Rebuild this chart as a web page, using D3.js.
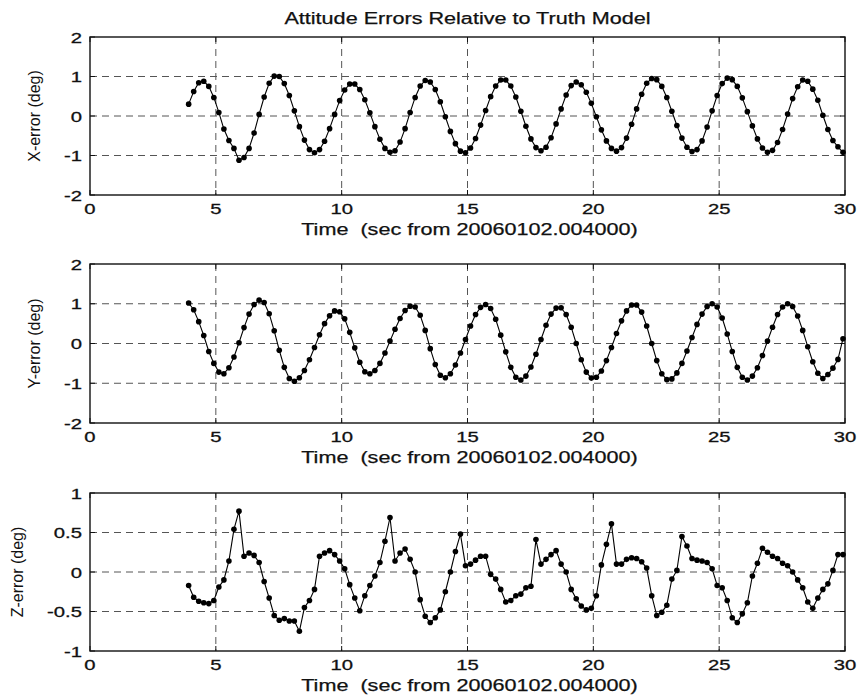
<!DOCTYPE html>
<html>
<head>
<meta charset="utf-8">
<script src="https://cdn.jsdelivr.net/npm/d3@7"></script>
<style>
  body { margin: 0; background: #fff; }
  text { font-family: "Liberation Sans", Arial, Helvetica, sans-serif; fill: #111; white-space: pre; }
</style>
</head>
<body>
<div id="chart"></div>
<script>
var width  = 860;
var height = 696;

// sample times: first sample and spacing (sec)
var t0 = 3.92;
var dt = 0.2;

var title  = "Attitude Errors Relative to Truth Model";
var xLabel = "Time  (sec from 20060102.004000)";
var xTicks = [0, 5, 10, 15, 20, 25, 30];

var xErr = [
  0.30, 0.62, 0.84, 0.88, 0.75, 0.47, 0.09, -0.33, -0.62, -0.82,
  -1.12, -1.05, -0.82, -0.43, 0.04, 0.48, 0.83, 1.01, 1.00, 0.82,
  0.52, 0.13, -0.27, -0.61, -0.85, -0.93, -0.85, -0.64, -0.32, 0.04,
  0.39, 0.66, 0.81, 0.81, 0.67, 0.41, 0.08, -0.27, -0.59, -0.82,
  -0.92, -0.88, -0.66, -0.32, 0.09, 0.47, 0.76, 0.90, 0.86, 0.67,
  0.36, -0.02, -0.39, -0.70, -0.89, -0.93, -0.81, -0.57, -0.23, 0.14,
  0.49, 0.76, 0.91, 0.91, 0.76, 0.48, 0.12, -0.26, -0.58, -0.80,
  -0.88, -0.79, -0.55, -0.20, 0.18, 0.53, 0.77, 0.86, 0.79, 0.60,
  0.32, -0.02, -0.35, -0.63, -0.82, -0.89, -0.80, -0.56, -0.21, 0.18,
  0.55, 0.83, 0.95, 0.92, 0.75, 0.47, 0.12, -0.24, -0.56, -0.79,
  -0.90, -0.85, -0.63, -0.28, 0.13, 0.52, 0.82, 0.96, 0.92, 0.75,
  0.46, 0.11, -0.25, -0.58, -0.81, -0.92, -0.87, -0.67, -0.34, 0.05,
  0.44, 0.74, 0.91, 0.88, 0.68, 0.40, 0.02, -0.34, -0.62, -0.78,
  -0.92
];

var yErr = [
  1.02, 0.85, 0.55, 0.20, -0.20, -0.50, -0.72, -0.76, -0.61, -0.34,
  0.02, 0.40, 0.74, 0.98, 1.09, 1.03, 0.75, 0.32, -0.17, -0.60,
  -0.88, -0.95, -0.86, -0.68, -0.41, -0.10, 0.22, 0.50, 0.70, 0.82,
  0.80, 0.62, 0.28, -0.11, -0.47, -0.71, -0.76, -0.68, -0.50, -0.24,
  0.06, 0.36, 0.63, 0.83, 0.94, 0.92, 0.71, 0.33, -0.13, -0.53,
  -0.80, -0.86, -0.76, -0.54, -0.24, 0.10, 0.44, 0.73, 0.91, 0.98,
  0.88, 0.61, 0.21, -0.21, -0.60, -0.85, -0.92, -0.82, -0.59, -0.27,
  0.10, 0.46, 0.74, 0.89, 0.90, 0.73, 0.41, 0.00, -0.41, -0.72,
  -0.87, -0.85, -0.69, -0.43, -0.10, 0.25, 0.57, 0.82, 0.97, 0.97,
  0.79, 0.44, 0.00, -0.43, -0.76, -0.91, -0.89, -0.74, -0.50, -0.19,
  0.15, 0.48, 0.74, 0.93, 1.00, 0.92, 0.64, 0.24, -0.20, -0.60,
  -0.85, -0.92, -0.82, -0.61, -0.30, 0.06, 0.41, 0.73, 0.92, 1.00,
  0.93, 0.69, 0.33, -0.08, -0.46, -0.75, -0.88, -0.78, -0.62, -0.40,
  0.12
];

var zErr = [
  -0.17, -0.32, -0.37, -0.39, -0.40, -0.36, -0.19, -0.10, 0.14, 0.54,
  0.77, 0.20, 0.24, 0.21, 0.12, -0.12, -0.33, -0.55, -0.61, -0.59,
  -0.62, -0.62, -0.75, -0.45, -0.36, -0.22, 0.20, 0.24, 0.27, 0.22,
  0.14, 0.04, -0.16, -0.33, -0.49, -0.30, -0.17, -0.05, 0.12, 0.39,
  0.69, 0.14, 0.24, 0.29, 0.16, 0.00, -0.35, -0.56, -0.64, -0.58,
  -0.48, -0.25, 0.00, 0.26, 0.48, 0.08, 0.10, 0.15, 0.20, 0.20,
  -0.03, -0.09, -0.22, -0.38, -0.36, -0.30, -0.28, -0.20, -0.18, 0.41,
  0.10, 0.16, 0.22, 0.27, 0.10, 0.00, -0.22, -0.34, -0.43, -0.48,
  -0.46, -0.30, 0.09, 0.35, 0.61, 0.10, 0.10, 0.16, 0.18, 0.17,
  0.13, 0.05, -0.30, -0.55, -0.51, -0.42, -0.09, 0.02, 0.45, 0.33,
  0.17, 0.15, 0.14, 0.12, 0.04, -0.17, -0.20, -0.36, -0.58, -0.64,
  -0.53, -0.39, -0.05, 0.11, 0.30, 0.25, 0.20, 0.17, 0.11, 0.08,
  0.00, -0.10, -0.20, -0.38, -0.46, -0.33, -0.22, -0.15, 0.02, 0.22,
  0.22
];

var xyTicks = [-2, -1, 0, 1, 2];
var zTicks  = [-1, -0.5, 0, 0.5, 1];

var panels = [
  { values: xErr, label: "X-error (deg)", ticks: xyTicks, top: 37,  bottom: 195, labelX: 35 },
  { values: yErr, label: "Y-error (deg)", ticks: xyTicks, top: 264, bottom: 423, labelX: 35 },
  { values: zErr, label: "Z-error (deg)", ticks: zTicks,  top: 493, bottom: 651, labelX: 18 }
];

var left = 90, right = 845;
var stretch = 1.35;   // the scanned lettering is wide

var svg = d3.select("#chart").append("svg")
  .attr("width", width)
  .attr("height", height);

var x = d3.scaleLinear().domain([0, 30]).range([left, right]);

function wide(sel) {
  sel.each(function() {
    var len = this.getComputedTextLength();
    d3.select(this).attr("textLength", len * stretch).attr("lengthAdjust", "spacingAndGlyphs");
  });
}

svg.append("text")
  .attr("x", (left + right) / 2)
  .attr("y", 24)
  .attr("text-anchor", "middle")
  .style("font-size", "16px")
  .style("stroke", "#111").style("stroke-width", 0.25)
  .text(title)
  .call(wide);

panels.forEach(function(p) {
  var y = d3.scaleLinear()
    .domain(d3.extent(p.ticks))
    .range([p.bottom, p.top]);

  var g = svg.append("g");

  // grid
  g.selectAll(".vgrid")
    .data(xTicks.slice(1, -1))
    .enter().append("line")
    .attr("x1", function(d) { return x(d); })
    .attr("x2", function(d) { return x(d); })
    .attr("y1", p.top).attr("y2", p.bottom)
    .style("stroke", "#555").style("stroke-width", 1)
    .style("stroke-dasharray", "7,5");

  g.selectAll(".hgrid")
    .data(p.ticks.slice(1, -1))
    .enter().append("line")
    .attr("x1", left).attr("x2", right)
    .attr("y1", function(d) { return y(d); })
    .attr("y2", function(d) { return y(d); })
    .style("stroke", "#555").style("stroke-width", 1)
    .style("stroke-dasharray", "7,5");

  // inward tick marks
  xTicks.forEach(function(d) {
    g.append("line").attr("x1", x(d)).attr("x2", x(d)).attr("y1", p.bottom).attr("y2", p.bottom - 5)
      .style("stroke", "#111");
    g.append("line").attr("x1", x(d)).attr("x2", x(d)).attr("y1", p.top).attr("y2", p.top + 5)
      .style("stroke", "#111");
  });
  p.ticks.forEach(function(d) {
    g.append("line").attr("x1", left).attr("x2", left + 5).attr("y1", y(d)).attr("y2", y(d))
      .style("stroke", "#111");
    g.append("line").attr("x1", right).attr("x2", right - 5).attr("y1", y(d)).attr("y2", y(d))
      .style("stroke", "#111");
  });

  // box
  g.append("rect")
    .attr("x", left).attr("y", p.top)
    .attr("width", right - left).attr("height", p.bottom - p.top)
    .style("fill", "none").style("stroke", "#111").style("stroke-width", 1.4);

  // tick labels
  g.selectAll(".xlab")
    .data(xTicks)
    .enter().append("text")
    .attr("x", function(d) { return x(d); })
    .attr("y", p.bottom + 19)
    .attr("text-anchor", "middle")
    .style("font-size", "15px")
    .style("stroke", "#111").style("stroke-width", 0.3)
    .text(function(d) { return d; })
    .call(wide);

  g.selectAll(".ylab")
    .data(p.ticks)
    .enter().append("text")
    .attr("x", left - 8)
    .attr("y", function(d) { return y(d) + 5.5; })
    .attr("text-anchor", "end")
    .style("font-size", "15px")
    .style("stroke", "#111").style("stroke-width", 0.3)
    .text(function(d) { return d; })
    .call(wide);

  // axis titles
  g.append("text")
    .attr("x", (left + right) / 2 + 2)
    .attr("y", p.bottom + 40)
    .attr("text-anchor", "middle")
    .style("font-size", "16px")
    .style("stroke", "#111").style("stroke-width", 0.25)
    .text(xLabel)
    .call(wide);

  g.append("text")
    .attr("transform", "translate(" + (p.labelX + 5) + "," + ((p.top + p.bottom) / 2) + ") rotate(-90)")
    .attr("text-anchor", "middle")
    .style("font-size", "16px")
    .text(p.label);

  // data
  var pts = p.values.map(function(v, i) { return [t0 + i * dt, v]; });

  var line = d3.line()
    .x(function(d) { return x(d[0]); })
    .y(function(d) { return y(d[1]); });

  g.append("path")
    .datum(pts)
    .attr("d", line)
    .style("fill", "none")
    .style("stroke", "#000")
    .style("stroke-width", 1.1);

  g.selectAll(".dot")
    .data(pts)
    .enter().append("circle")
    .attr("cx", function(d) { return x(d[0]); })
    .attr("cy", function(d) { return y(d[1]); })
    .attr("r", 2.8)
    .style("fill", "#000");
});
</script>
</body>
</html>
